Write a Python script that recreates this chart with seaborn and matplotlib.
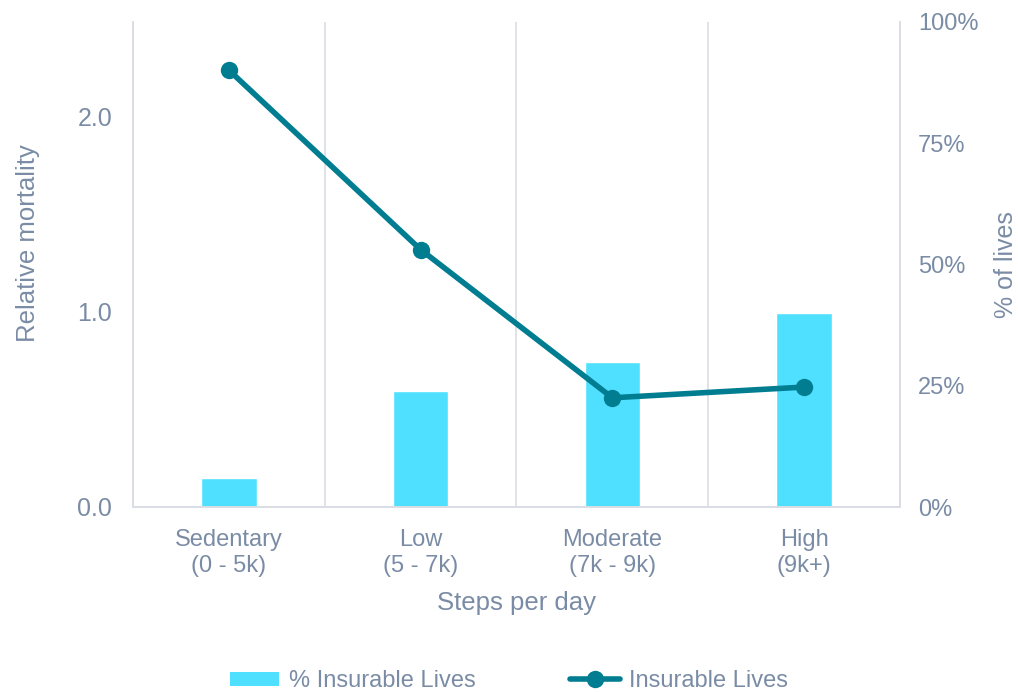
import matplotlib
matplotlib.use("Agg")
import matplotlib.pyplot as plt
from matplotlib.lines import Line2D
from matplotlib.patches import Patch
from matplotlib.ticker import FixedLocator, PercentFormatter
import seaborn as sns
import pandas as pd

# Data
categories = ["Sedentary\n(0 - 5k)", "Low\n(5 - 7k)", "Moderate\n(7k - 9k)", "High\n(9k+)"]
pct_insurable_lives = [6, 24, 30, 40]          # % of lives (right axis)
relative_mortality = [2.24, 1.32, 0.56, 0.615]  # relative mortality (left axis)

BAR_COLOR = "#50E0FF"
LINE_COLOR = "#007D91"
TEXT_COLOR = "#7A8CA5"
GRID_COLOR = "#D9DEE4"
FS = 17

sns.set_theme(style="white")
plt.rcParams["font.family"] = ["Liberation Sans", "DejaVu Sans"]

df = pd.DataFrame({"cat": categories, "pct": pct_insurable_lives, "mort": relative_mortality})

fig = plt.figure(figsize=(10.18, 6.92), dpi=100)
ax = fig.add_axes([133 / 1018, 1 - 507 / 692, (900 - 133) / 1018, (507 - 22) / 692])
ax2 = ax.twinx()

# Bars on the percentage axis
sns.barplot(data=df, x="cat", y="pct", ax=ax2, color=BAR_COLOR, width=0.29,
            saturation=1, zorder=2)
ax2.set_ylim(0, 100)
ax2.yaxis.set_major_locator(FixedLocator([0, 25, 50, 75, 100]))
ax2.yaxis.set_major_formatter(PercentFormatter(decimals=0))
ax2.set_ylabel("% of lives", color=TEXT_COLOR, fontsize=18)
ax2.yaxis.set_label_coords(1.123, 0.5)

# Line on the mortality axis, drawn in front of the bars
ax.set_zorder(ax2.get_zorder() + 1)
ax.patch.set_visible(False)
sns.lineplot(data=df, x="cat", y="mort", ax=ax, color=LINE_COLOR, linewidth=4,
             marker="o", markersize=12.5, markeredgewidth=0, sort=False)
ax.set_ylim(0, 2.487)
ax.yaxis.set_major_locator(FixedLocator([0, 1, 2]))
ax.yaxis.set_major_formatter(lambda v, p: f"{v:.1f}")
ax.set_ylabel("Relative mortality", color=TEXT_COLOR, fontsize=18.5)
ax.yaxis.set_label_coords(-0.121, 0.545)
ax.set_xlabel("Steps per day", color=TEXT_COLOR, fontsize=18.5)
ax.xaxis.set_label_coords(0.5, -0.174)
ax.set_xlim(-0.5, 3.5)
ax2.set_xlim(-0.5, 3.5)

# Vertical separators between categories
for xv in [0.5, 1.5, 2.5]:
    ax2.axvline(xv, color=GRID_COLOR, linewidth=1.2, zorder=0)

for a in (ax, ax2):
    a.spines["top"].set_visible(False)
    for side in ("left", "right", "bottom"):
        a.spines[side].set_color(GRID_COLOR)
        a.spines[side].set_linewidth(1.2)
    a.tick_params(axis="both", length=0, colors=TEXT_COLOR, labelsize=FS)
    a.grid(False)

ax.tick_params(axis="y", pad=15, labelsize=18)
ax2.tick_params(axis="y", pad=13)
ax.tick_params(axis="x", pad=16)
for lbl in ax.get_xticklabels():
    lbl.set_linespacing(1.25)
ax2.set_xlabel("")

# Legend below the chart
handles = [
    Patch(facecolor=BAR_COLOR, edgecolor="none"),
    Line2D([0], [0], color=LINE_COLOR, linewidth=4, marker="o", markersize=12.5,
           markeredgewidth=0),
]
fig.legend(handles, ["% Insurable Lives", "Insurable Lives"], loc="center",
           bbox_to_anchor=(0.5, 1 - 681 / 692), ncol=2, frameon=False,
           fontsize=FS, labelcolor=TEXT_COLOR, handlelength=2.1, handleheight=0.55,
           handletextpad=0.4, columnspacing=4.0)

fig.savefig("out.png", dpi=100)
